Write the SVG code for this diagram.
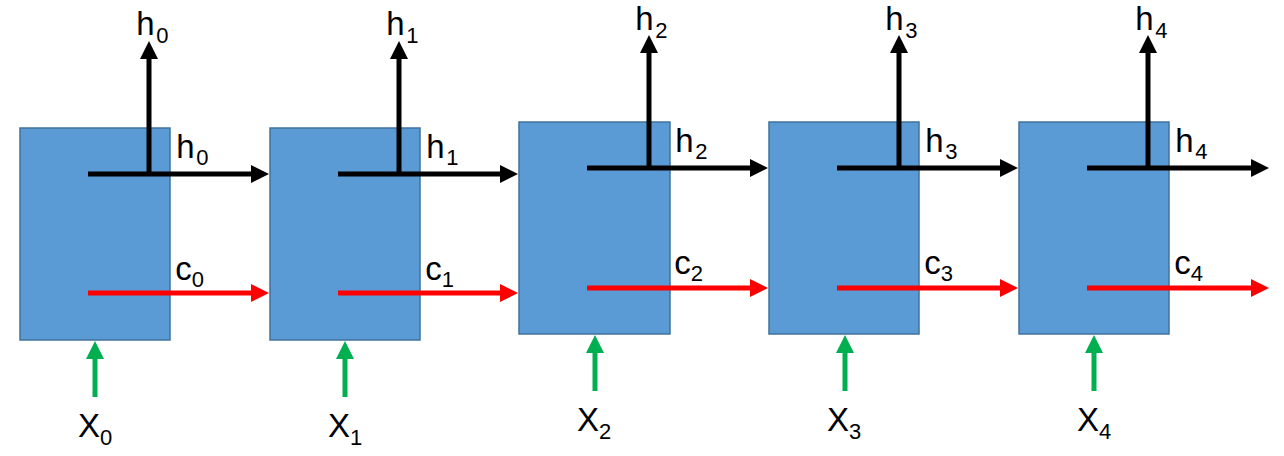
<svg xmlns="http://www.w3.org/2000/svg" width="1284" height="456" viewBox="0 0 1284 456">
<style>
.box{fill:#5B9BD5;stroke:#41719C;stroke-width:1.5}
.h{stroke:#000;stroke-width:5;fill:none}
.c{stroke:#FF0000;stroke-width:5;fill:none}
.x{stroke:#00B050;stroke-width:5;fill:none}
text{font-family:"Liberation Sans",Arial,sans-serif;font-size:33px;fill:#000}
.s{font-size:22px}
</style>
<defs>
<marker id="ak" viewBox="0 0 18 18" refX="6" refY="9" markerWidth="18" markerHeight="18" markerUnits="userSpaceOnUse" orient="auto"><path d="M0,0 L18,9 L0,18 z" fill="#000"/></marker>
<marker id="ar" viewBox="0 0 18 18" refX="6" refY="9" markerWidth="18" markerHeight="18" markerUnits="userSpaceOnUse" orient="auto"><path d="M0,0 L18,9 L0,18 z" fill="#FF0000"/></marker>
<marker id="ag" viewBox="0 0 18 18" refX="6" refY="9" markerWidth="18" markerHeight="18" markerUnits="userSpaceOnUse" orient="auto"><path d="M0,0 L18,9 L0,18 z" fill="#00B050"/></marker>
</defs>
<g id="cell0">
<rect class="box" x="20" y="128" width="150" height="212"/>
<text x="136.3" y="35">h<tspan class="s" dx="1.5" dy="8">0</tspan></text>
<text x="176.3" y="158">h<tspan class="s" dx="1.5" dy="7">0</tspan></text>
<text x="175.2" y="280">c<tspan class="s" dy="7">0</tspan></text>
<text x="78" y="437">X<tspan class="s" dy="8">0</tspan></text>
</g>
<g id="cell1">
<rect class="box" x="270" y="128" width="150" height="212"/>
<text x="386.3" y="35">h<tspan class="s" dx="1.5" dy="8">1</tspan></text>
<text x="426.3" y="158">h<tspan class="s" dx="1.5" dy="7">1</tspan></text>
<text x="425.2" y="280">c<tspan class="s" dy="7">1</tspan></text>
<text x="328" y="437">X<tspan class="s" dy="8">1</tspan></text>
</g>
<g id="cell2">
<rect class="box" x="519" y="122" width="151" height="212"/>
<text x="635.3" y="30">h<tspan class="s" dx="1.5" dy="8">2</tspan></text>
<text x="675.3" y="152">h<tspan class="s" dx="1.5" dy="7">2</tspan></text>
<text x="674.2" y="274">c<tspan class="s" dy="7">2</tspan></text>
<text x="577" y="431">X<tspan class="s" dy="8">2</tspan></text>
</g>
<g id="cell3">
<rect class="box" x="769" y="122" width="150" height="212"/>
<text x="885.3" y="30">h<tspan class="s" dx="1.5" dy="8">3</tspan></text>
<text x="925.3" y="152">h<tspan class="s" dx="1.5" dy="7">3</tspan></text>
<text x="924.2" y="274">c<tspan class="s" dy="7">3</tspan></text>
<text x="827" y="431">X<tspan class="s" dy="8">3</tspan></text>
</g>
<g id="cell4">
<rect class="box" x="1019" y="122" width="150" height="212"/>
<text x="1135.3" y="30">h<tspan class="s" dx="1.5" dy="8">4</tspan></text>
<text x="1175.3" y="152">h<tspan class="s" dx="1.5" dy="7">4</tspan></text>
<text x="1174.2" y="274">c<tspan class="s" dy="7">4</tspan></text>
<text x="1077" y="431">X<tspan class="s" dy="8">4</tspan></text>
</g>
<g id="connectors">
<line class="h" x1="88" y1="174" x2="257" y2="174" marker-end="url(#ak)"/>
<line class="h" x1="149" y1="176" x2="149" y2="53" marker-end="url(#ak)"/>
<line class="c" x1="88" y1="293" x2="257" y2="293" marker-end="url(#ar)"/>
<line class="x" x1="95" y1="397" x2="95" y2="353" marker-end="url(#ag)"/>

<line class="h" x1="338" y1="174" x2="506" y2="174" marker-end="url(#ak)"/>
<line class="h" x1="399" y1="176" x2="399" y2="53" marker-end="url(#ak)"/>
<line class="c" x1="338" y1="293" x2="506" y2="293" marker-end="url(#ar)"/>
<line class="x" x1="345" y1="397" x2="345" y2="353" marker-end="url(#ag)"/>

<line class="h" x1="587" y1="168" x2="756" y2="168" marker-end="url(#ak)"/>
<line class="h" x1="649" y1="170" x2="649" y2="47" marker-end="url(#ak)"/>
<line class="c" x1="587" y1="288" x2="756" y2="288" marker-end="url(#ar)"/>
<line class="x" x1="595" y1="391" x2="595" y2="347" marker-end="url(#ag)"/>

<line class="h" x1="837" y1="168" x2="1006" y2="168" marker-end="url(#ak)"/>
<line class="h" x1="899" y1="170" x2="899" y2="47" marker-end="url(#ak)"/>
<line class="c" x1="837" y1="288" x2="1006" y2="288" marker-end="url(#ar)"/>
<line class="x" x1="845" y1="391" x2="845" y2="347" marker-end="url(#ag)"/>

<line class="h" x1="1087" y1="168" x2="1257" y2="168" marker-end="url(#ak)"/>
<line class="h" x1="1148" y1="170" x2="1148" y2="47" marker-end="url(#ak)"/>
<line class="c" x1="1087" y1="288" x2="1257" y2="288" marker-end="url(#ar)"/>
<line class="x" x1="1094" y1="391" x2="1094" y2="347" marker-end="url(#ag)"/>
</g>
</svg>
